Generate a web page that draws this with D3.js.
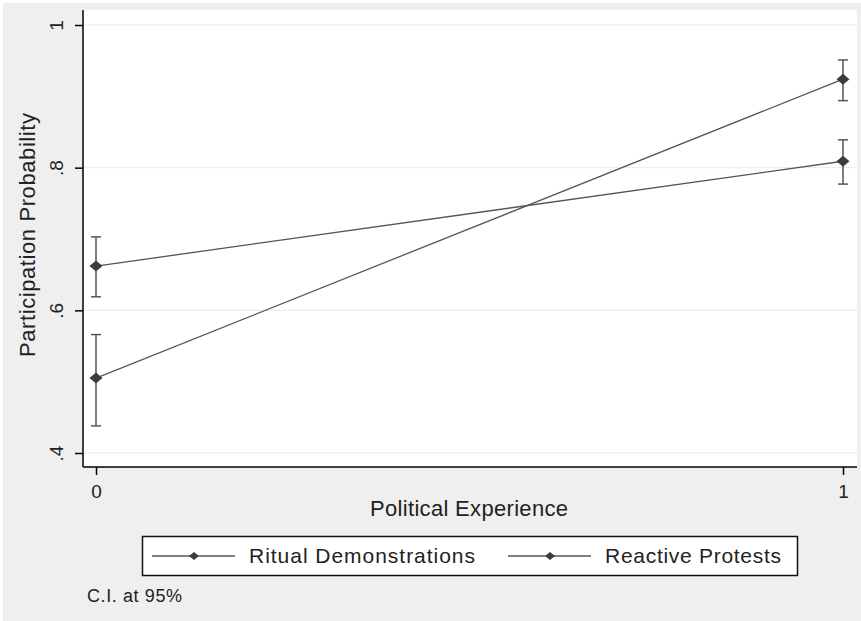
<!DOCTYPE html>
<html><head><meta charset="utf-8">
<script src="https://cdn.jsdelivr.net/npm/d3@7"></script>
<style>body{margin:0;background:#fff}svg{display:block;font-family:"Liberation Sans",Arial,sans-serif}</style>
</head><body>
<script>
const xValues = [0, 1];
const xTickLabels = ["0", "1"];
const yTicks = [0.4, 0.6, 0.8, 1.0];
const yTickLabels = [".4", ".6", ".8", "1"];
const seriesNames = ["Ritual Demonstrations", "Reactive Protests"];
const ritualEst = [0.662, 0.809];
const ritualLo = [0.619, 0.777];
const ritualHi = [0.703, 0.839];
const reactiveEst = [0.505, 0.924];
const reactiveLo = [0.438, 0.894];
const reactiveHi = [0.566, 0.951];
const xTitle = "Political Experience";
const yTitle = "Participation Probability";
const note = "C.I. at 95%";

const W = 861, H = 621;
const svg = d3.select("body").append("svg").attr("width", W).attr("height", H);
svg.append("rect").attr("x", 3).attr("y", 3).attr("width", W - 3).attr("height", H - 3).attr("fill", "#efefef");

const plot = {l: 83, r: 857, t: 10, b: 467};
svg.append("rect").attr("x", plot.l).attr("y", plot.t).attr("width", plot.r - plot.l).attr("height", plot.b - plot.t).attr("fill", "#fff");

const x = d3.scaleLinear().domain([0, 1]).range([96, 843]);
const y = d3.scaleLinear().domain([0.4, 1.0]).range([453, 25]);

// gridlines
svg.append("g").selectAll("line").data(yTicks).join("line")
  .attr("x1", plot.l).attr("x2", plot.r).attr("y1", d => y(d)).attr("y2", d => y(d))
  .attr("stroke", "#eaeaea").attr("stroke-width", 1);

// y axis
const yAxis = d3.axisLeft(y).tickValues(yTicks).tickFormat((d, i) => yTickLabels[i]).tickSize(8).tickSizeOuter(0);
const gy = svg.append("g").attr("transform", `translate(${plot.l},0)`).call(yAxis);
gy.select(".domain").remove();
gy.append("line").attr("x1", 0).attr("x2", 0).attr("y1", plot.t).attr("y2", plot.b).attr("stroke", "#000").attr("stroke-width", 1.5);
gy.selectAll(".tick line").attr("stroke", "#000").attr("stroke-width", 1.5);
gy.selectAll(".tick text").attr("font-size", 19).attr("fill", "#222").attr("font-family", "Liberation Sans, Arial, sans-serif")
  .attr("x", null).attr("dy", null).attr("text-anchor", "middle")
  .attr("transform", "translate(-20,0) rotate(-90)").attr("y", 0);

// x axis
const xAxis = d3.axisBottom(x).tickValues(xValues).tickFormat((d, i) => xTickLabels[i]).tickSize(8).tickSizeOuter(0);
const gx = svg.append("g").attr("transform", `translate(0,${plot.b})`).call(xAxis);
gx.select(".domain").remove();
gx.append("line").attr("x1", plot.l).attr("x2", plot.r).attr("y1", 0).attr("y2", 0).attr("stroke", "#000").attr("stroke-width", 1.5);
gx.selectAll(".tick line").attr("stroke", "#000").attr("stroke-width", 1.5);
gx.selectAll(".tick text").attr("font-size", 19).attr("fill", "#222").attr("font-family", "Liberation Sans, Arial, sans-serif")
  .attr("dy", null).attr("y", 31);

// titles
svg.append("text").attr("x", 469).attr("y", 516).attr("text-anchor", "middle").attr("font-size", 22).attr("fill", "#222")
  .attr("textLength", 198).attr("lengthAdjust", "spacing").text(xTitle);
svg.append("text").attr("transform", "translate(35,235) rotate(-90)").attr("text-anchor", "middle").attr("font-size", 22).attr("fill", "#222")
  .attr("textLength", 244).attr("lengthAdjust", "spacing").text(yTitle);

const series = [
  {name: seriesNames[0], est: ritualEst, lo: ritualLo, hi: ritualHi},
  {name: seriesNames[1], est: reactiveEst, lo: reactiveLo, hi: reactiveHi}
];
const lineColor = "#555", markColor = "#3c3c3c";
const line = d3.line().x((d, i) => x(xValues[i])).y(d => y(d));
const diamond = "M0,-5.5L6.5,0L0,5.5L-6.5,0Z";

series.forEach(s => {
  const g = svg.append("g");
  g.append("path").attr("d", line(s.est)).attr("fill", "none").attr("stroke", lineColor).attr("stroke-width", 1.3);
  xValues.forEach((xv, i) => {
    g.append("line").attr("x1", x(xv)).attr("x2", x(xv)).attr("y1", y(s.lo[i])).attr("y2", y(s.hi[i])).attr("stroke", lineColor).attr("stroke-width", 1.5);
    [s.lo[i], s.hi[i]].forEach(v => g.append("line").attr("x1", x(xv) - 5).attr("x2", x(xv) + 5).attr("y1", y(v)).attr("y2", y(v)).attr("stroke", lineColor).attr("stroke-width", 1.5));
    g.append("path").attr("d", diamond).attr("transform", `translate(${x(xv)},${y(s.est[i])})`).attr("fill", markColor);
  });
});

// legend
const leg = svg.append("g");
leg.append("rect").attr("x", 142.5).attr("y", 536.5).attr("width", 655).attr("height", 39).attr("fill", "#fff").attr("stroke", "#111").attr("stroke-width", 1.5);
const legItems = [{x0: 152, tx: 249, len: 226}, {x0: 508, tx: 605, len: 176}];
legItems.forEach((it, i) => {
  leg.append("line").attr("x1", it.x0).attr("x2", it.x0 + 83).attr("y1", 556).attr("y2", 556).attr("stroke", lineColor).attr("stroke-width", 1.3);
  leg.append("path").attr("d", "M0,-4L5,0L0,4L-5,0Z").attr("transform", `translate(${it.x0 + 42},556)`).attr("fill", markColor);
  leg.append("text").attr("x", it.tx).attr("y", 563).attr("font-size", 21).attr("fill", "#222")
    .attr("textLength", it.len).attr("lengthAdjust", "spacing").text(seriesNames[i]);
});

svg.append("text").attr("x", 87).attr("y", 602).attr("font-size", 18).attr("fill", "#222")
  .attr("textLength", 95).attr("lengthAdjust", "spacing").text(note);
</script>
</body></html>
